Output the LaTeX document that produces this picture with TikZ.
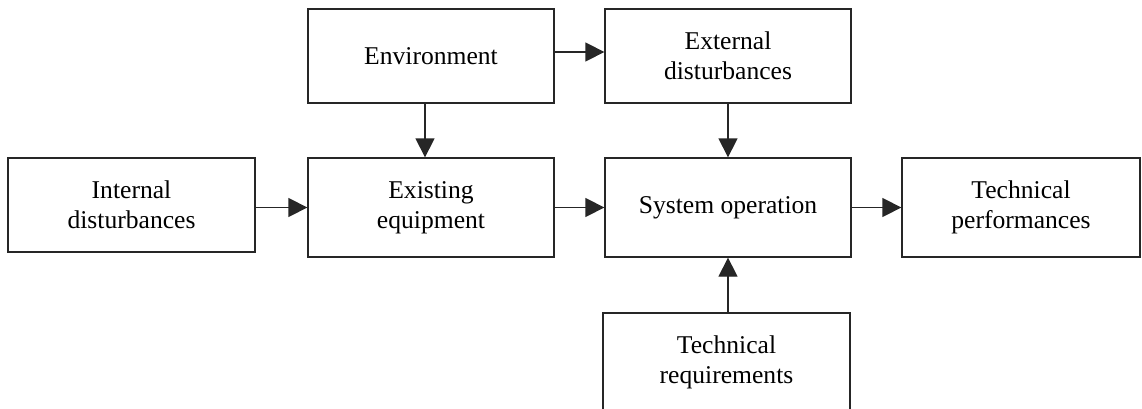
\documentclass[tikz,border=0pt]{standalone}
\usepackage{fontspec}
\setmainfont{Liberation Serif}
\usetikzlibrary{arrows.meta}
\begin{document}
\begin{tikzpicture}[x=1pt,y=-1pt,
  blk/.style={draw=black!85, line width=1.3pt, rectangle, inner sep=0pt, align=center,
    font=\fontsize{25.6}{30}\selectfont, text=black},
  arr/.style={line width=1.3pt, draw=black!85, -{Triangle[length=19pt,width=19pt]}}]
\useasboundingbox (0,0) rectangle (1142,409);
\fill[white] (0,0) rectangle (1142,409);
\node[blk, minimum width=246pt, minimum height=94pt] (env) at (431,56) {Environment};
\node[blk, minimum width=246pt, minimum height=94pt] (ext) at (728,56) {External\\disturbances};
\node[blk, minimum width=247pt, minimum height=94pt] (int) at (131.5,205) {Internal\\disturbances};
\node[blk, minimum width=246pt, minimum height=99pt] (exi) at (431,207.5) {Existing\\equipment};
\node[blk, minimum width=246pt, minimum height=99pt] (sys) at (728,207.5) {System operation};
\node[blk, minimum width=238pt, minimum height=99pt] (per) at (1021,207.5) {Technical\\performances};
\node[blk, minimum width=247pt, minimum height=98pt] (req) at (726.5,362) {Technical\\requirements};
\draw[arr] ([yshift=4pt]env.east) -- ([yshift=4pt]ext.west);
\draw[arr] ([xshift=-6pt]env.south) -- ([xshift=-6pt]exi.north);
\draw[arr] (ext.south) -- (sys.north);
\draw[arr] (int.east |- exi.east) -- (exi.west);
\draw[arr] (exi.east) -- (sys.west);
\draw[arr] (sys.east) -- (per.west);
\draw[arr] (req.north -| sys.south) -- (sys.south);
\end{tikzpicture}
\end{document}
